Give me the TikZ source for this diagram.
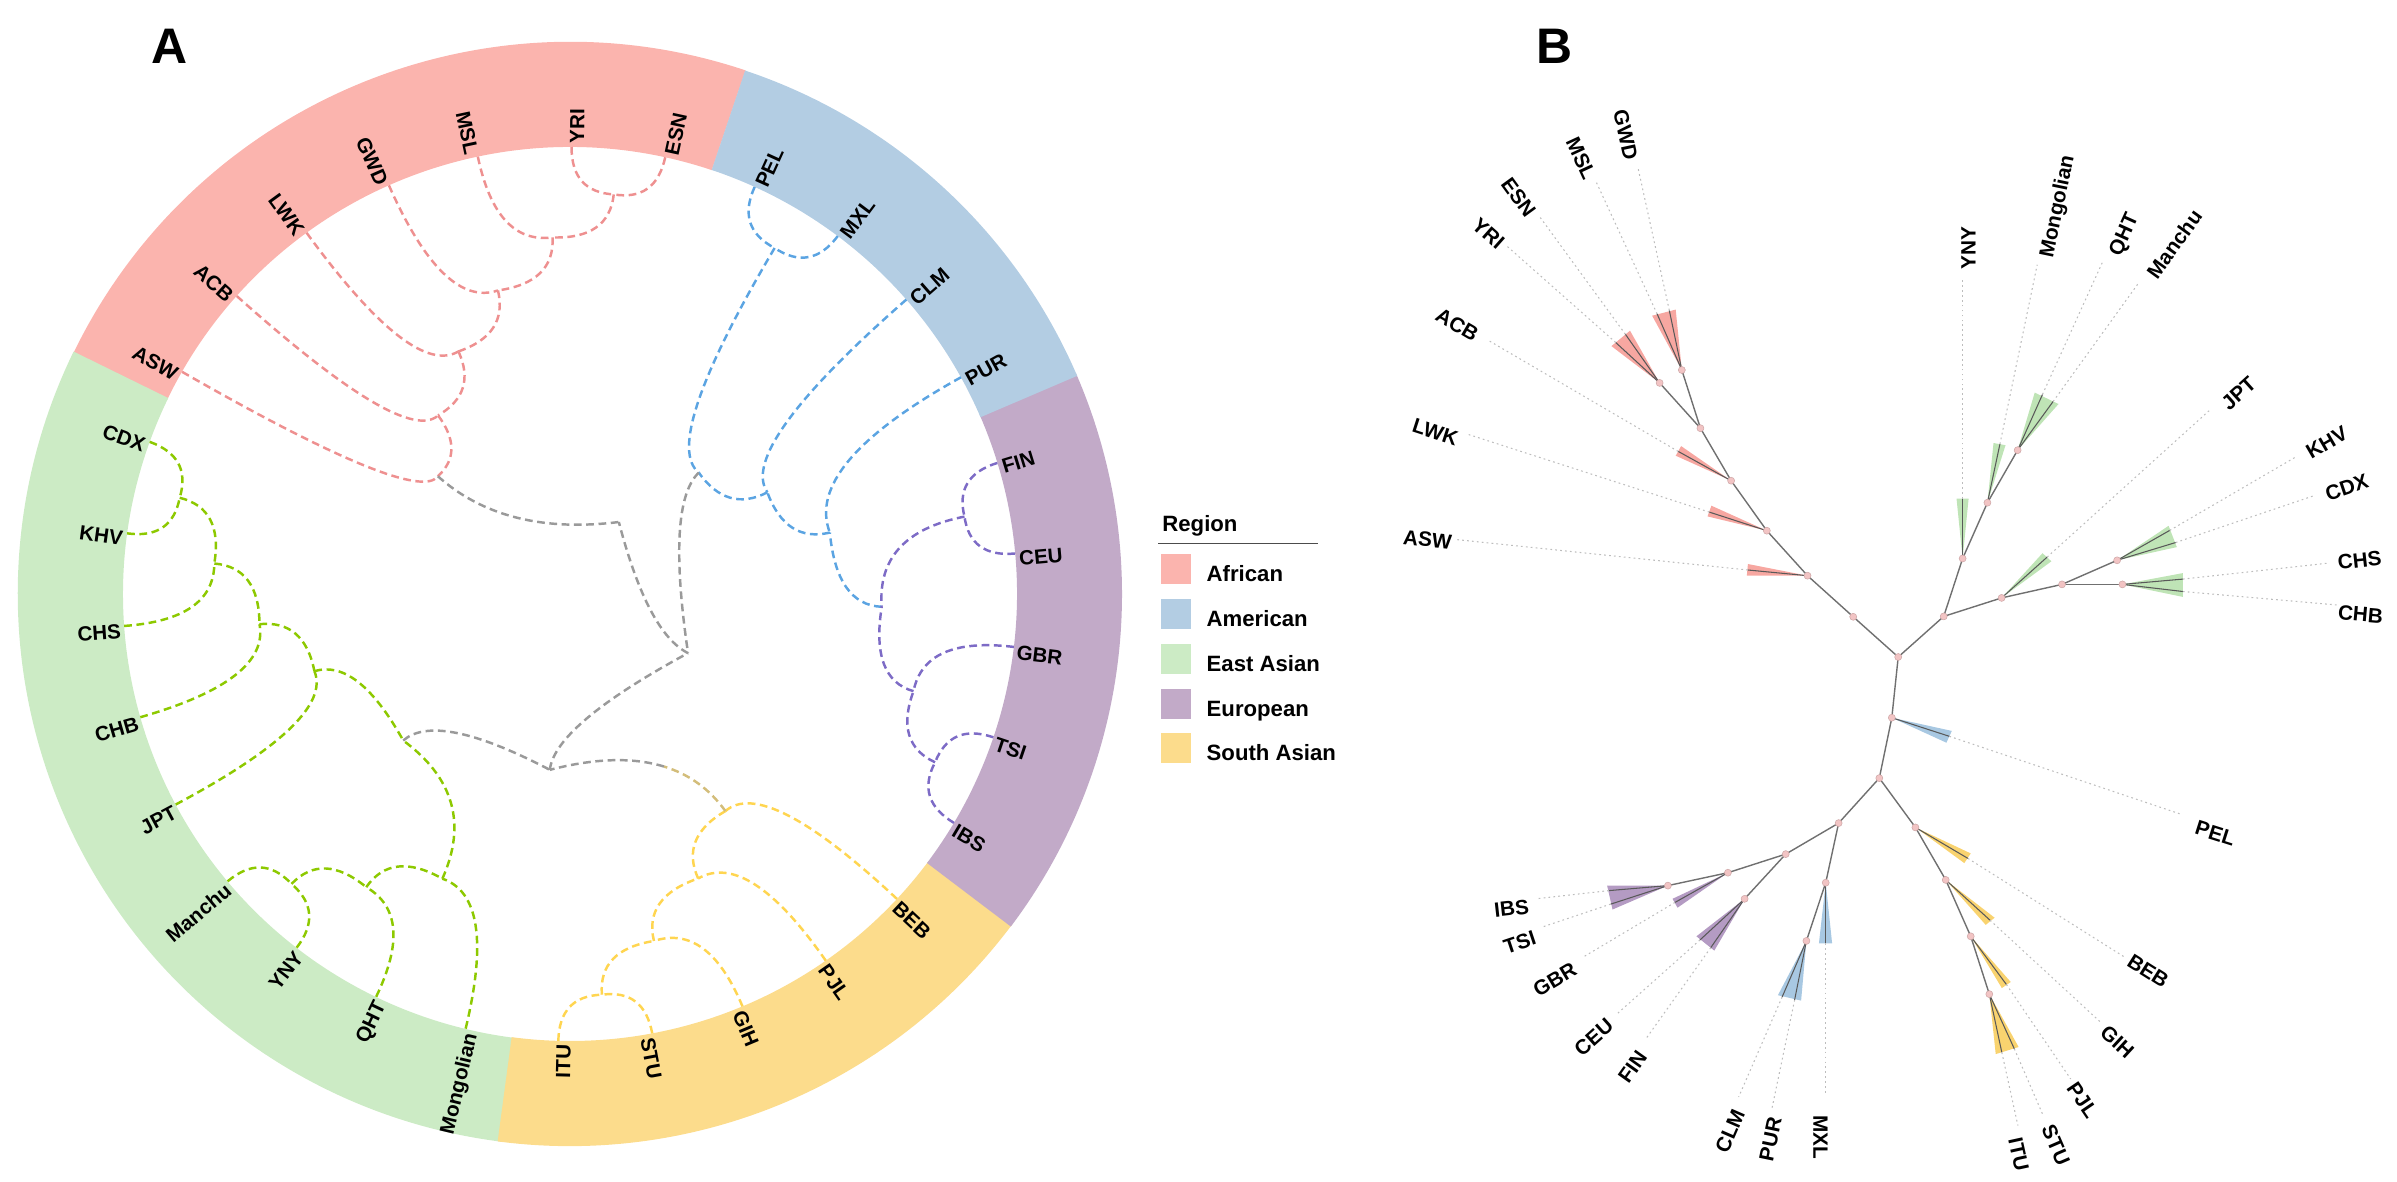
\documentclass[tikz,border=0pt]{standalone}
\usepackage{fontspec}
\setmainfont{Liberation Sans}
\usetikzlibrary{calc}
\definecolor{ringAF}{HTML}{FBB4AE}
\definecolor{ringAM}{HTML}{B3CDE3}
\definecolor{ringEA}{HTML}{CCEBC5}
\definecolor{ringEU}{HTML}{C2AAC8}
\definecolor{ringSA}{HTML}{FCDC8C}
\definecolor{lnAF}{HTML}{EE9090}
\definecolor{lnAM}{HTML}{5BA4E2}
\definecolor{lnEA}{HTML}{8DC900}
\definecolor{lnEU}{HTML}{7D6BC6}
\definecolor{lnSA}{HTML}{FFD550}
\definecolor{lnGR}{HTML}{9A9A9A}
\definecolor{lnTAN}{HTML}{D3BD7A}
\definecolor{wAF}{HTML}{F7A7A1}
\definecolor{wEA}{HTML}{BFE4B6}
\definecolor{wAM}{HTML}{A8C8E2}
\definecolor{wEU}{HTML}{B49BC3}
\definecolor{wSA}{HTML}{F9D36F}
\definecolor{dotB}{HTML}{F2C4C4}
\definecolor{treeB}{HTML}{707070}
\definecolor{leadB}{HTML}{BDBDBD}
\tikzset{
  dend/.style={line width=0.7pt, dash pattern=on 2.2pt off 1.3pt},
  alab/.style={font=\fontsize{5.85}{6}\selectfont\bfseries, inner sep=0pt, text height=0.72em, text depth=0pt},
  blab/.style={font=\fontsize{5.9}{6}\selectfont\bfseries, inner sep=0pt, text height=0.72em, text depth=0pt},
  btree/.style={draw=treeB, line width=0.4pt},
  bleaf/.style={draw=black!65, line width=0.3pt},
  bleader/.style={draw=leadB, line width=0.3pt, dash pattern=on 0.5pt off 0.9pt},
  bdot/.style={circle, fill=dotB, draw=dotB!85!black, line width=0.15pt, inner sep=0pt, minimum size=0.07cm},
  legtxt/.style={font=\fontsize{6.3}{7}\selectfont\bfseries, inner sep=0pt, text height=0.72em, text depth=0pt},
  swatch/.style={inner sep=0pt, minimum size=0.3cm},
  panel/.style={font=\fontsize{14.2}{15}\selectfont\bfseries, inner sep=0pt},
}
\newcommand{\sector}[3]{\fill[#1] (#2:447) arc[start angle=#2, end angle=#3, radius=4.47cm] -- (#3:552) arc[start angle=#3, end angle=#2, radius=5.52cm] -- cycle;}
\newcommand{\leafR}[2]{\coordinate (a#1) at (#2:447); \node[alab, anchor=west, rotate={#2}] (ta#1) at (#2:450) {#1};}
\newcommand{\leafL}[2]{\coordinate (a#1) at (#2:447); \node[alab, anchor=east, rotate={#2-180}] (ta#1) at (#2:450) {#1};}
\newcommand{\inn}[3]{\coordinate (#1) at (#2:{447-45*#3});}
\newcommand{\lk}[5]{\draw[dend,#1] (#2) .. controls ($(#2)!0.6667!(#3:{447-45*#5})$) and ($(#4)!0.6667!(#3:{447-45*#5})$) .. (#4);}
\newcommand{\bl}[6]{\coordinate (tp#2) at (#3); \coordinate (en#2) at (#4);
  \draw[bleaf] (#1) -- (tp#2); \draw[bleader] (tp#2) -- (en#2);
  \node[blab, rotate={#6}] (lb#2) at (#5) {#2};}
\begin{document}
\begin{tikzpicture}[x=0.01cm,y=0.01cm]
\useasboundingbox (0,0) rectangle (2397,-1182);
\node[panel, anchor=base west] (pA) at (151,-63.6) {A};
\node[panel, anchor=base west] (pB) at (1536,-64) {B};
% ================= Panel A =================
\begin{scope}[shift={(570,-594)}]
\sector{ringAF}{71.5}{154.3}
\sector{ringEA}{154}{262.8}
\sector{ringSA}{262.5}{323.3}
\sector{ringEU}{323}{383.6}
\sector{ringAM}{23.3}{71.5}
% leaves
\leafR{ESN}{77.7}
\leafR{YRI}{89.8}
\leafL{MSL}{101.9}
\leafL{GWD}{113.9}
\leafL{LWK}{126.1}
\leafL{ACB}{138.2}
\leafL{ASW}{150.2}
\leafL{CDX}{160.1}
\leafL{KHV}{172.2}
\leafL{CHS}{184.1}
\leafL{CHB}{196.0}
\leafL{JPT}{208.1}
\leafL{Manchu}{220.0}
\leafL{YNY}{232.3}
\leafL{QHT}{244.3}
\leafL{Mongolian}{256.5}
\leafL{ITU}{268.5}
\leafR{STU}{280.6}
\leafR{GIH}{292.7}
\leafR{PJL}{304.9}
\leafR{BEB}{317.0}
\leafR{IBS}{329.2}
\leafR{TSI}{341.3}
\leafR{GBR}{353.2}
\leafR{CEU}{365.2}
\leafR{FIN}{377.05}
\leafR{PUR}{29.0}
\leafR{CLM}{41.2}
\leafR{MXL}{53.2}
\leafR{PEL}{65.6}
% internal nodes
\inn{aN1}{83.75}{1}
\inn{aN2}{92.8}{2}
\inn{aN3}{103.35}{3}
\inn{aN4}{114.7}{4}
\inn{aN5}{126.45}{5}
\inn{aN6}{138.3}{6}
\inn{aM1}{59.4}{1}
\inn{aE1}{11.1}{1}
\inn{aE2}{335.25}{1}
\inn{aE3}{344.2}{2}
\inn{aE4}{357.65}{3}
\inn{aM2}{13.3}{4}
\inn{aM3}{27.25}{5}
\inn{aM4}{43.3}{6}
\inn{aK1}{166.15}{1}
\inn{aK2}{175.1}{2}
\inn{aK3}{185.55}{3}
\inn{aK4}{196.8}{4}
\inn{aK5}{226.15}{1}
\inn{aK6}{235.2}{2}
\inn{aK7}{245.85}{3}
\inn{aK8}{221.3}{5}
\inn{aS1}{274.55}{1}
\inn{aS2}{283.6}{2}
\inn{aS3}{294.25}{3}
\inn{aS4}{305.6}{4}
\inn{aY}{263.45}{6}
\inn{aX}{333.4}{7}
\inn{aR}{55.85}{8}
% African
\lk{lnAF}{aYRI}{89.8}{aN1}{1}
\lk{lnAF}{aESN}{77.7}{aN1}{1}
\lk{lnAF}{aMSL}{101.9}{aN2}{2}
\lk{lnAF}{aN1}{83.75}{aN2}{2}
\lk{lnAF}{aGWD}{113.9}{aN3}{3}
\lk{lnAF}{aN2}{92.8}{aN3}{3}
\lk{lnAF}{aLWK}{126.1}{aN4}{4}
\lk{lnAF}{aN3}{103.35}{aN4}{4}
\lk{lnAF}{aACB}{138.2}{aN5}{5}
\lk{lnAF}{aN4}{114.7}{aN5}{5}
\lk{lnAF}{aASW}{150.2}{aN6}{6}
\lk{lnAF}{aN5}{126.45}{aN6}{6}
\lk{lnGR}{aN6}{138.3}{aR}{8}
% American
\lk{lnAM}{aPEL}{65.6}{aM1}{1}
\lk{lnAM}{aMXL}{53.2}{aM1}{1}
\lk{lnAM}{aPUR}{29.0}{aM2}{4}
\lk{lnAM}{aE4}{357.65}{aM2}{4}
\lk{lnAM}{aCLM}{41.2}{aM3}{5}
\lk{lnAM}{aM2}{13.3}{aM3}{5}
\lk{lnAM}{aM1}{59.4}{aM4}{6}
\lk{lnAM}{aM3}{27.25}{aM4}{6}
\lk{lnGR}{aM4}{43.3}{aX}{7}
% European
\lk{lnEU}{aFIN}{17.05}{aE1}{1}
\lk{lnEU}{aCEU}{5.2}{aE1}{1}
\lk{lnEU}{aTSI}{341.3}{aE2}{1}
\lk{lnEU}{aIBS}{329.2}{aE2}{1}
\lk{lnEU}{aGBR}{353.2}{aE3}{2}
\lk{lnEU}{aE2}{335.25}{aE3}{2}
\lk{lnEU}{aE1}{11.1}{aE4}{3}
\lk{lnEU}{aE3}{344.2}{aE4}{3}
% East Asian
\lk{lnEA}{aCDX}{160.1}{aK1}{1}
\lk{lnEA}{aKHV}{172.2}{aK1}{1}
\lk{lnEA}{aK1}{166.15}{aK2}{2}
\lk{lnEA}{aCHS}{184.1}{aK2}{2}
\lk{lnEA}{aK2}{175.1}{aK3}{3}
\lk{lnEA}{aCHB}{196.0}{aK3}{3}
\lk{lnEA}{aK3}{185.55}{aK4}{4}
\lk{lnEA}{aJPT}{208.1}{aK4}{4}
\lk{lnEA}{aManchu}{220.0}{aK5}{1}
\lk{lnEA}{aYNY}{232.3}{aK5}{1}
\lk{lnEA}{aK5}{226.15}{aK6}{2}
\lk{lnEA}{aQHT}{244.3}{aK6}{2}
\lk{lnEA}{aK6}{235.2}{aK7}{3}
\lk{lnEA}{aMongolian}{256.5}{aK7}{3}
\lk{lnEA}{aK4}{196.8}{aK8}{5}
\lk{lnEA}{aK7}{245.85}{aK8}{5}
\lk{lnGR}{aK8}{221.3}{aY}{6}
% South Asian
\lk{lnSA}{aITU}{268.5}{aS1}{1}
\lk{lnSA}{aSTU}{280.6}{aS1}{1}
\lk{lnSA}{aS1}{274.55}{aS2}{2}
\lk{lnSA}{aGIH}{292.7}{aS2}{2}
\lk{lnSA}{aS2}{283.6}{aS3}{3}
\lk{lnSA}{aPJL}{304.9}{aS3}{3}
\lk{lnSA}{aS3}{294.25}{aS4}{4}
\lk{lnSA}{aBEB}{317.0}{aS4}{4}
\coordinate (kS) at (305.6:177);
\coordinate (q1) at ($(aS4)!0.45!(kS)$);
\coordinate (q2) at ($(kS)!0.45!(aY)$);
\coordinate (bt) at ($(q1)!0.45!(q2)$);
\draw[dend, lnTAN] (aS4) .. controls ($(aS4)!0.6667!(q1)$) and ($(bt)!0.6667!(q1)$) .. (bt);
\draw[dend, lnGR] (bt) .. controls ($(bt)!0.6667!(q2)$) and ($(aY)!0.6667!(q2)$) .. (aY);
% backbone
\lk{lnGR}{aY}{263.45}{aX}{7}
\lk{lnGR}{aX}{333.4}{aR}{8}
\end{scope}
% ================= Legend =================
\node[legtxt, anchor=base west, text height=, text depth=] (lgT) at (1161.7,-531) {Region};
\draw[black!70, line width=0.3pt] (1158.3,-543.3) -- (1318.3,-543.3);
\node[swatch, fill=ringAF] (sw1) at (1175.7,-569) {};
\node[swatch, fill=ringAM] (sw2) at (1175.7,-614) {};
\node[swatch, fill=ringEA] (sw3) at (1175.7,-658.7) {};
\node[swatch, fill=ringEU] (sw4) at (1175.7,-703.7) {};
\node[swatch, fill=ringSA] (sw5) at (1175.7,-748.3) {};
\node[legtxt, anchor=west] (lg1) at (1206,-569) {African};
\node[legtxt, anchor=west] (lg2) at (1206,-614) {American};
\node[legtxt, anchor=west] (lg3) at (1206,-658.7) {East Asian};
\node[legtxt, anchor=west] (lg4) at (1206,-703.7) {European};
\node[legtxt, anchor=west] (lg5) at (1206,-748.3) {South Asian};
% ================= Panel B =================
\coordinate (bGM) at (1681.8,-370);
\coordinate (bYE) at (1659.6,-382.9);
\coordinate (bAf1) at (1700.4,-428.2);
\coordinate (bACB) at (1731.1,-480.7);
\coordinate (bLWK) at (1766.8,-530.7);
\coordinate (bASW) at (1807.5,-575.7);
\coordinate (bRt) at (1853.2,-616.8);
\coordinate (bC) at (1898.2,-657);
\coordinate (bY0) at (1943.7,-616.4);
\coordinate (bYNY) at (1962.6,-558.5);
\coordinate (bMon) at (1987.4,-502.7);
\coordinate (bQM) at (2017.6,-450.2);
\coordinate (bEA2) at (2001.6,-597.9);
\coordinate (bEA3) at (2062,-584.4);
\coordinate (bKC) at (2117.1,-560.3);
\coordinate (bCC) at (2122.4,-584.4);
\coordinate (bPEL) at (1891.8,-717.7);
\coordinate (bLow) at (1879.3,-778.1);
\coordinate (bEUAM) at (1838.6,-823.1);
\coordinate (bBEB) at (1915.4,-827.4);
\coordinate (bEU2) at (1785.7,-854.1);
\coordinate (bMXL) at (1825.7,-882.7);
\coordinate (bEU3) at (1727.9,-872.7);
\coordinate (bCF) at (1744.6,-898.8);
\coordinate (bIT) at (1667.9,-885.6);
\coordinate (bCP) at (1806.4,-940.9);
\coordinate (bGIH) at (1945.7,-879.9);
\coordinate (bPJL) at (1970.7,-936.3);
\coordinate (bIS) at (1989.3,-994.1);
% wedges
\fill[wAF] (bGM) -- (1652.1,-315.7) -- (1675.7,-309.6) -- cycle;
\fill[wAF] (bYE) -- (1611.4,-346.1) -- (1630,-330.7) -- cycle;
\fill[wAF] (bACB) -- (1675.7,-455.7) -- (1681.1,-446.1) -- cycle;
\fill[wAF] (bLWK) -- (1707.5,-516.4) -- (1711.4,-505.7) -- cycle;
\fill[wAF] (bASW) -- (1746.8,-575.7) -- (1747.9,-564) -- cycle;
\fill[wEA] (bYNY) -- (1956.5,-498.5) -- (1968.6,-498.5) -- cycle;
\fill[wEA] (bMon) -- (1993.5,-443) -- (2005.5,-445.2) -- cycle;
\fill[wEA] (bQM) -- (2034.7,-392.6) -- (2058.5,-404) -- cycle;
\fill[wEA] (bEA2) -- (2042.5,-553.2) -- (2051.4,-561.3) -- cycle;
\fill[wEA] (bKC) -- (2168.6,-525.8) -- (2176.8,-547.1) -- cycle;
\fill[wEA] (bCC) -- (2182.8,-573.1) -- (2182.8,-596.9) -- cycle;
\fill[wAM] (bPEL) -- (1946.4,-742.7) -- (1951.8,-730.9) -- cycle;
\fill[wAM] (bMXL) -- (1818.9,-943.4) -- (1832.1,-943.4) -- cycle;
\fill[wAM] (bCP) -- (1777.9,-995.2) -- (1801.1,-1000.6) -- cycle;
\fill[wEU] (bEU3) -- (1672.5,-898.8) -- (1677.5,-907.7) -- cycle;
\fill[wEU] (bIT) -- (1607.1,-885.6) -- (1612.5,-909.5) -- cycle;
\fill[wEU] (bCF) -- (1696.4,-936.3) -- (1714.3,-950.6) -- cycle;
\fill[wSA] (bBEB) -- (1964.3,-863.1) -- (1970.7,-853.4) -- cycle;
\fill[wSA] (bGIH) -- (1985.7,-924.9) -- (1994.6,-917.7) -- cycle;
\fill[wSA] (bPJL) -- (2001.8,-988.1) -- (2010.7,-982) -- cycle;
\fill[wSA] (bIS) -- (1995.7,-1054.1) -- (2018.6,-1047) -- cycle;
% tree edges
\draw[btree] (bGM) -- (bAf1);
\draw[btree] (bYE) -- (bAf1);
\draw[btree] (bAf1) -- (bACB);
\draw[btree] (bACB) -- (bLWK);
\draw[btree] (bLWK) -- (bASW);
\draw[btree] (bASW) -- (bRt);
\draw[btree] (bRt) -- (bC);
\draw[btree] (bC) -- (bY0);
\draw[btree] (bY0) -- (bYNY);
\draw[btree] (bYNY) -- (bMon);
\draw[btree] (bMon) -- (bQM);
\draw[btree] (bY0) -- (bEA2);
\draw[btree] (bEA2) -- (bEA3);
\draw[btree] (bEA3) -- (bKC);
\draw[btree] (bEA3) -- (bCC);
\draw[btree] (bC) -- (bPEL);
\draw[btree] (bPEL) -- (bLow);
\draw[btree] (bLow) -- (bEUAM);
\draw[btree] (bLow) -- (bBEB);
\draw[btree] (bEUAM) -- (bEU2);
\draw[btree] (bEUAM) -- (bMXL);
\draw[btree] (bEU2) -- (bEU3);
\draw[btree] (bEU2) -- (bCF);
\draw[btree] (bEU3) -- (bIT);
\draw[btree] (bMXL) -- (bCP);
\draw[btree] (bBEB) -- (bGIH);
\draw[btree] (bGIH) -- (bPJL);
\draw[btree] (bPJL) -- (bIS);
% leaves
\bl{bGM}{MSL}{1657.1,-313.9}{1596.1,-181.8}{1586,-156}{-65.2}
\bl{bGM}{GWD}{1669.3,-310.4}{1637.9,-167.5}{1631,-134}{-77.6}
\bl{bYE}{YRI}{1615.7,-342.5}{1506.8,-246}{1492,-229}{-41.5}
\bl{bYE}{ESN}{1625.4,-334.3}{1538.9,-215.7}{1523,-194}{-53.9}
\bl{bACB}{ACB}{1678.2,-451.4}{1488.9,-340.7}{1460,-320}{-30.3}
\bl{bLWK}{LWK}{1709.3,-512.1}{1465.7,-433.6}{1437,-427}{-17.9}
\bl{bASW}{ASW}{1747.9,-570}{1456.8,-539.6}{1428,-534}{-6}
\bl{bYNY}{YNY}{1962.6,-498.5}{1962.6,-278.9}{1963,-248}{90}
\bl{bMon}{Mongolian}{1999.9,-444.1}{2037.2,-264.7}{2051,-205}{78.3}
\bl{bQM}{QHT}{2042.5,-394.4}{2102.9,-261.2}{2118,-232}{65.6}
\bl{bQM}{Manchu}{2053.1,-401.5}{2138.4,-283.2}{2170,-241}{54.2}
\bl{bEA2}{JPT}{2047.1,-557.1}{2209.4,-410.4}{2235,-389}{42.1}
\bl{bKC}{KHV}{2169.7,-530.4}{2296.5,-456.5}{2324,-438}{30.2}
\bl{bKC}{CDX}{2175.7,-542.5}{2314.2,-495.6}{2345,-482}{18.7}
\bl{bCC}{CHS}{2182.8,-579.1}{2328.5,-563.1}{2359,-555}{6.3}
\bl{bCC}{CHB}{2182.8,-591.5}{2337.3,-605}{2361,-609}{-5}
\bl{bPEL}{PEL}{1949.3,-736.3}{2180.9,-814.2}{2217,-828}{-17.6}
\bl{bMXL}{MXL}{1825.7,-943.4}{1825.7,-1093.4}{1826,-1137}{-90}
\bl{bCP}{CLM}{1782.1,-997}{1738.6,-1097}{1725,-1129}{66.5}
\bl{bCP}{PUR}{1794.6,-999.9}{1772.1,-1107.7}{1765,-1138}{78.2}
\bl{bEU3}{GBR}{1675,-902.4}{1582.1,-957.7}{1552,-975}{30.8}
\bl{bIT}{IBS}{1608.9,-890.6}{1535.7,-898.8}{1511,-903}{6.4}
\bl{bIT}{TSI}{1610.7,-904.1}{1541.1,-927.4}{1518,-937}{18.5}
\bl{bCF}{CEU}{1700,-939.9}{1617.9,-1013.1}{1590,-1033}{41.7}
\bl{bCF}{FIN}{1710.7,-947.7}{1646.4,-1038.1}{1628,-1064}{54.6}
\bl{bBEB}{BEB}{1967.9,-858.4}{2126,-958}{2151,-966}{-32.2}
\bl{bGIH}{GIH}{1990,-920.2}{2099.8,-1021.5}{2121,-1038}{-42.7}
\bl{bPJL}{PJL}{2006.4,-984.5}{2070.7,-1079}{2087,-1097}{-55.8}
\bl{bIS}{STU}{2014.3,-1048.8}{2042.9,-1114.9}{2061,-1143}{-66.6}
\bl{bIS}{ITU}{2001.8,-1052.4}{2017.9,-1125.6}{2024,-1153}{-77.6}
% node dots
\foreach \n in {bGM,bYE,bAf1,bACB,bLWK,bASW,bRt,bC,bY0,bYNY,bMon,bQM,bEA2,bEA3,bKC,bCC,bPEL,bLow,bEUAM,bBEB,bEU2,bMXL,bEU3,bCF,bIT,bCP,bGIH,bPJL,bIS}
  \node[bdot] (d\n) at (\n) {};
\end{tikzpicture}
\end{document}
